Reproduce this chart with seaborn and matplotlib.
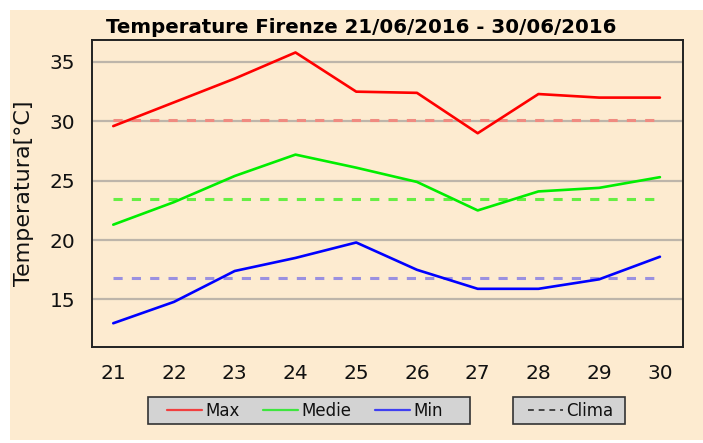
import matplotlib
matplotlib.use("Agg")
import matplotlib.pyplot as plt
from matplotlib.lines import Line2D
from matplotlib.patches import Rectangle
import pandas as pd
import seaborn as sns

# Daily temperatures, Florence, 21-30 June 2016
giorni = [21, 22, 23, 24, 25, 26, 27, 28, 29, 30]
t_max = [29.6, 31.6, 33.6, 35.8, 32.5, 32.4, 29.0, 32.3, 32.0, 32.0]
t_medie = [21.3, 23.2, 25.4, 27.2, 26.1, 24.9, 22.5, 24.1, 24.4, 25.3]
t_min = [13.0, 14.8, 17.4, 18.5, 19.8, 17.5, 15.9, 15.9, 16.7, 18.6]

# Climatological reference values
clima_max = 30.1
clima_medie = 23.5
clima_min = 16.8

serie = ["Max", "Medie", "Min"]
colori = {"Max": "#ff0000", "Medie": "#00ee00", "Min": "#0000ff"}
colori_clima = {"Max": "#f08a80", "Medie": "#66ee44", "Min": "#9a90e0"}
yticks = [15, 20, 25, 30, 35]

df = pd.DataFrame({
    "giorno": giorni * 3,
    "temperatura": t_max + t_medie + t_min,
    "serie": ["Max"] * 10 + ["Medie"] * 10 + ["Min"] * 10,
})
clima = pd.DataFrame({
    "giorno": giorni * 3,
    "temperatura": [clima_max] * 10 + [clima_medie] * 10 + [clima_min] * 10,
    "serie": ["Max"] * 10 + ["Medie"] * 10 + ["Min"] * 10,
})

sns.set_style("white")
plt.rcParams["font.family"] = ["DejaVu Sans"]
plt.rcParams["text.color"] = "#111111"
plt.rcParams["axes.labelcolor"] = "#111111"
plt.rcParams["xtick.labelcolor"] = "#111111"
plt.rcParams["ytick.labelcolor"] = "#111111"

W, H = 703, 443
bg = "#fdebd0"
fig = plt.figure(figsize=(W / 100, H / 100), dpi=100, facecolor="white")
fig.patches.append(Rectangle((10 / W, 3 / H), 693 / W, 430 / H,
                             transform=fig.transFigure, facecolor=bg,
                             edgecolor="none", zorder=-10))
ax = fig.add_axes([92 / W, 1 - 347 / H, (683 - 92) / W, (347 - 40) / H])
ax.set_facecolor(bg)

for v in yticks:
    ax.axhline(v, color="#bdb5aa", lw=1.6, zorder=0)

sns.lineplot(data=clima, x="giorno", y="temperatura", hue="serie",
             palette=colori_clima, hue_order=serie, ax=ax, lw=2.2,
             legend=False, zorder=2)
for ln in ax.get_lines()[-3:]:
    ln.set_dashes((3, 3))

sns.lineplot(data=df, x="giorno", y="temperatura", hue="serie",
             palette=colori, hue_order=serie, ax=ax, lw=1.9,
             legend=False, zorder=3)

ax.set_xlim(20.65, 30.38)
ax.set_ylim(11.0, 36.85)
ax.set_xticks(giorni)
ax.set_yticks(yticks)
ax.set_xlabel("")
ax.set_ylabel("Temperatura[°C]", fontsize=16, labelpad=11)
ax.tick_params(axis="both", direction="out", length=8, width=1.0,
               color="#bdb5aa", labelsize=14.5, pad=4)
for s in ax.spines.values():
    s.set_color("#222222")
    s.set_linewidth(1.4)

ax.set_title("Temperature Firenze 21/06/2016 - 30/06/2016",
             fontsize=14.2, fontweight="bold", pad=5, color="#000000",
             x=(361 - 92) / (683 - 92))

# Legend boxes
for x0, x1 in [(148, 470), (513, 625)]:
    fig.patches.append(Rectangle((x0 / W, 1 - 424 / H), (x1 - x0) / W, 27 / H,
                                 transform=fig.transFigure, facecolor="#d3d3d3",
                                 edgecolor="#333333", lw=1.2, zorder=5))

h_serie = [Line2D([], [], color=colori[s], lw=1.6, alpha=0.7) for s in serie]
leg1 = fig.legend(h_serie, serie, loc="center", ncol=3,
                  bbox_to_anchor=(305 / W, 1 - 410.5 / H), frameon=False,
                  fontsize=12, handlelength=2.1, handletextpad=0.2,
                  columnspacing=1.4)
leg1.set_zorder(6)
h_clima = [Line2D([], [], color="#444444", lw=1.4, ls=(0, (3, 2.5)))]
leg2 = fig.legend(h_clima, ["Clima"], loc="center",
                  bbox_to_anchor=(571 / W, 1 - 410.5 / H), frameon=False,
                  fontsize=12, handlelength=2.1, handletextpad=0.2)
leg2.set_zorder(6)

fig.savefig("out.png", dpi=100, facecolor="white")
